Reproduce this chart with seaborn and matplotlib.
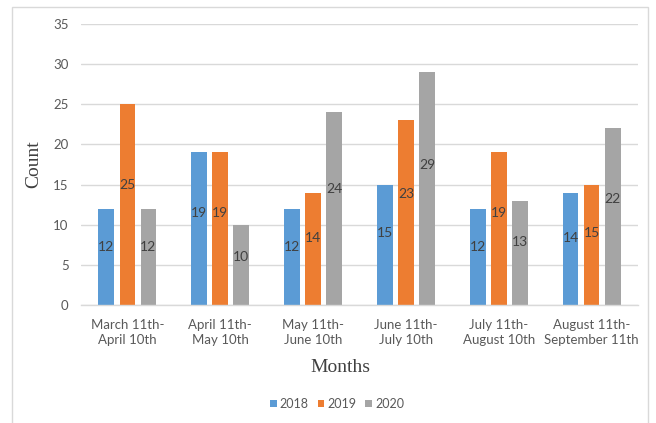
import matplotlib
matplotlib.use("Agg")
import matplotlib.pyplot as plt
import seaborn as sns
import pandas as pd
from matplotlib.patches import Rectangle

categories = ["March 11th-\nApril 10th", "April 11th-\nMay 10th", "May 11th-\nJune 10th",
              "June 11th-\nJuly 10th", "July 11th-\nAugust 10th", "August 11th-\nSeptember 11th"]
years = ["2018", "2019", "2020"]
v2018 = [12, 19, 12, 15, 12, 14]
v2019 = [25, 19, 14, 23, 19, 15]
v2020 = [12, 10, 24, 29, 13, 22]
colors = ["#5B9BD5", "#ED7D31", "#A5A5A5"]

rows = []
for y, vals in zip(years, [v2018, v2019, v2020]):
    for c, v in zip(categories, vals):
        rows.append({"Months": c, "Year": y, "Count": v})
df = pd.DataFrame(rows)

sns.set_theme(style="white")
plt.rcParams['font.family'] = ['Lato', 'DejaVu Sans']

fig = plt.figure(figsize=(6.56, 4.23), dpi=100)
ax = fig.add_axes([81/656, 1-305/423, 557/656, 281/423])

sns.barplot(data=df, x="Months", y="Count", hue="Year", palette=colors,
            width=0.68, ax=ax, saturation=1, legend=True, edgecolor="none")

# narrow bars and add labels
bar_w = 0.17
for p in ax.patches:
    h = p.get_height()
    if h == 0 or p.get_width() == 0:
        continue
    cx = p.get_x() + p.get_width()/2
    p.set_width(bar_w)
    p.set_x(cx - bar_w/2)
    ax.text(cx, h*0.6, f"{int(h)}", ha="center", va="center", fontsize=10, color="#404040")

ax.set_ylim(0, 35)
ax.set_yticks(range(0, 36, 5))
ax.set_xlim(-0.5, 5.5)
ax.yaxis.grid(True, color="#D9D9D9", linewidth=1)
ax.set_axisbelow(True)
for s in ["top", "right", "left"]:
    ax.spines[s].set_visible(False)
ax.spines["bottom"].set_color("#D9D9D9")
ax.spines["bottom"].set_linewidth(1)
ax.tick_params(axis="both", length=0, labelsize=9.5, colors="#595959")
ax.tick_params(axis="y", pad=9)
ax.tick_params(axis="x", pad=10)
for t in ax.get_xticklabels():
    t.set_linespacing(1.3)

ax.set_ylabel("Count", family="Liberation Serif", fontsize=14, color="#404040")
ax.yaxis.set_label_coords((34-81)/557, 0.5)
ax.set_xlabel("Months", family="Liberation Serif", fontsize=14, color="#404040")
ax.xaxis.set_label_coords((340-81)/557, (305-367)/281)
ax.xaxis.label.set_va("center")
ax.yaxis.label.set_va("center")

leg = ax.legend(loc="center", bbox_to_anchor=(337/656, 1-(404)/423), bbox_transform=fig.transFigure,
                ncol=3, frameon=False, fontsize=9, handlelength=0.55, handleheight=0.55,
                handletextpad=0.25, columnspacing=0.7)
for t in leg.get_texts():
    t.set_color("#595959")

fig.patches.append(Rectangle((12/656, -0.05), (648-12)/656, 1.05-7/423, transform=fig.transFigure,
                             fill=False, edgecolor="#D9D9D9", linewidth=1))

fig.savefig("out.png", dpi=100)
